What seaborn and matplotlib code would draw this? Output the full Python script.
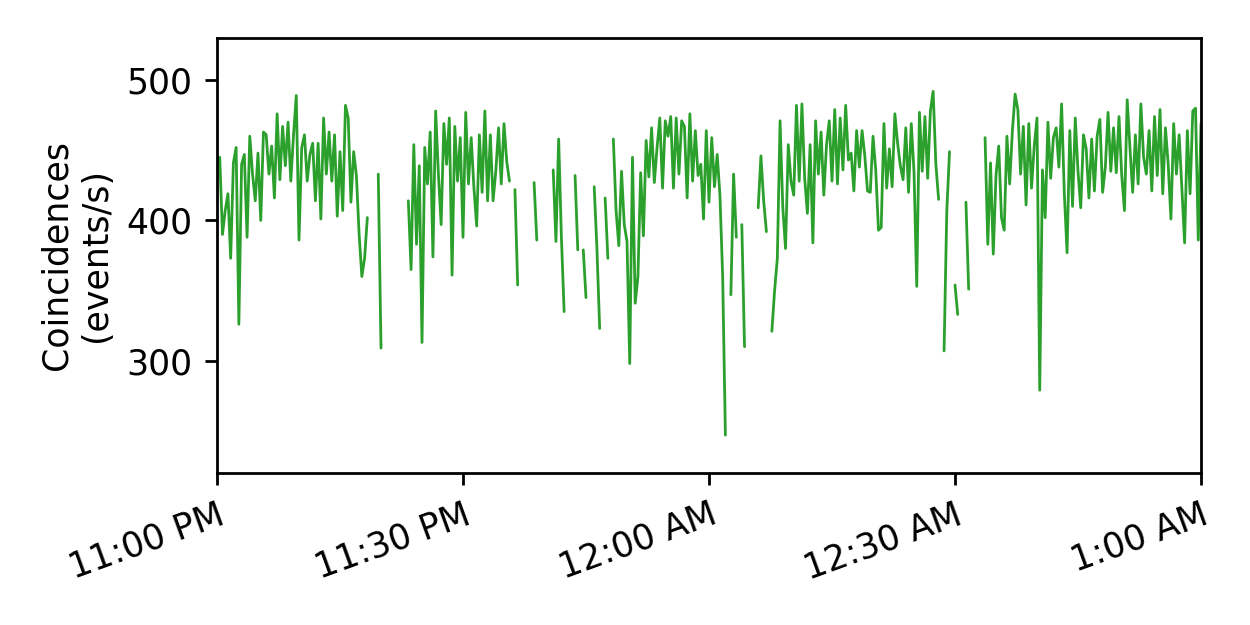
import numpy as np
import pandas as pd
import matplotlib
matplotlib.use("Agg")
import matplotlib.pyplot as plt
import matplotlib.dates as mdates
import seaborn as sns

nan = np.nan

# coincidence rate (events/s), one reading every 20 s from 11:00 PM to 1:00 AM
rate_2300 = [443, 445, 390, 407, 419, 373, 441, 452, 326, 440, 447, 388, 460, 433, 414, 448,
             400, 463, 461, 433, 453, 416, 476, 429, 467, 439, 470, 428, 461, 489, 386]
rate_2310 = [452, 461, 428, 447, 455, 414, 455, 401, 473, 433, 463, 428, 461, 403, 449, 407,
             482, 473, 413, 449, 432, 390, 360, 373, 402, nan, nan, nan, 433, 309, nan]
rate_2320 = [nan, nan, nan, nan, nan, nan, nan, nan, 414, 365, 454, 383, 439, 313, 452, 426,
             463, 374, 478, 433, 397, 469, 440, 473, 361, 467, 428, 459, 388, 477]
rate_2330 = [426, 459, 423, 396, 461, 420, 478, 414, 461, 414, 435, 466, 426, 469, 442, 428,
             nan, 422, 354, nan, nan, nan, nan, nan, 427, 386, nan, nan, nan, nan]
rate_2340 = [nan, 436, 385, 458, 388, 335, nan, nan, nan, 432, 379, nan, 379, 345, nan, nan,
             424, 380, 323, nan, 416, 373, nan, 458, 407, 382, 435, 397, 385, 298, 445]
rate_2350 = [341, 360, 434, 389, 457, 431, 466, 427, 452, 473, 423, 471, 460, 474, 423, 473,
             433, 471, 467, 416, 476, 428, 464, 432, 440, 401, 464, 413, 459, 424]
rate_0000 = [447, 418, 360, 247, nan, 347, 433, 388, nan, 397, 310, nan, nan, nan, nan, 409,
             446, 414, 392, nan, 321, 350, 373, 471, 409, 380, 454, 428, 418, 482, 428]
rate_0010 = [483, 430, 405, 454, 384, 471, 433, 463, 418, 454, 471, 428, 479, 426, 473, 436,
             482, 443, 448, 421, 464, 438, 464, 446, 421, 420, 460, 436, 393, 395]
rate_0020 = [469, 423, 451, 424, 476, 455, 439, 429, 466, 420, 469, 435, 353, 477, 435, 474,
             430, 478, 492, 440, 415, nan, 307, 407, 449, nan, 354, 333, nan, nan]
rate_0030 = [413, 351, nan, nan, nan, nan, nan, 459, 383, 441, 376, 432, 453, 402, 393, 460,
             426, 464, 490, 479, 433, 467, 411, 469, 423, 453, 473, 279, 436, 402]
rate_0040 = [470, 430, 459, 466, 438, 483, 419, 377, 464, 410, 473, 435, 409, 461, 451, 416,
             458, 421, 460, 472, 420, 438, 477, 435, 466, 434, 474, 432, 407, 486, 452]
rate_0050 = [420, 461, 426, 483, 445, 433, 464, 421, 474, 432, 479, 419, 466, 440, 401, 469,
             433, 461, 423, 384, 464, 419, 478, 480, 386, 469]

rate = (rate_2300 + rate_2310 + rate_2320 + rate_2330 + rate_2340 + rate_2350
        + rate_0000 + rate_0010 + rate_0020 + rate_0030 + rate_0040 + rate_0050)

start = pd.Timestamp("2023-01-01 23:00")
end = pd.Timestamp("2023-01-02 01:00")
times = pd.date_range(start, periods=len(rate), freq="20s")

df = pd.DataFrame({"time": times, "rate": rate})
# split into runs so that the gaps in the data stay gaps
df["seg"] = df["rate"].isna().cumsum()
df = df.dropna()

sns.set_style("ticks")
plt.rcParams["font.family"] = ["DejaVu Sans"]
plt.rcParams["text.color"] = "black"
plt.rcParams["axes.labelcolor"] = "black"

fig, ax = plt.subplots(figsize=(5, 2.5), dpi=250)
fig.subplots_adjust(left=0.1736, right=0.9608, top=0.9392, bottom=0.2432)

sns.lineplot(data=df, x="time", y="rate", units="seg", estimator=None,
             color="#2ca02c", linewidth=0.8, ax=ax)

ax.set_xlim(start, end)
ax.set_ylim(220, 530)
ax.set_yticks([300, 400, 500])
ax.xaxis.set_major_locator(mdates.MinuteLocator(byminute=[0, 30]))
ax.xaxis.set_major_formatter(mdates.DateFormatter("%-I:%M %p"))
ax.tick_params(labelsize=10, colors="black")
plt.setp(ax.get_xticklabels(), rotation=20, ha="right", rotation_mode="anchor")
ax.set_xlabel("")
ax.set_ylabel("Coincidences\n(events/s)", fontsize=10)
for s in ax.spines.values():
    s.set_color("black")

fig.savefig("out.png", dpi=250)
